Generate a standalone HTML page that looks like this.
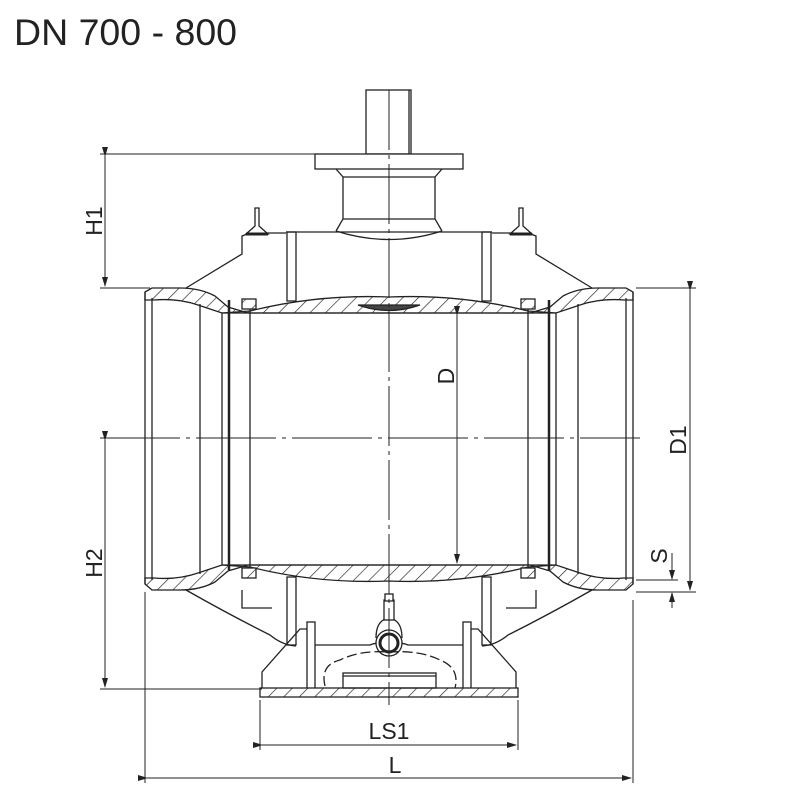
<!DOCTYPE html>
<html><head><style>body{margin:0;background:#fff}svg{display:block}</style></head><body>
<svg width="800" height="800" viewBox="0 0 800 800" xmlns="http://www.w3.org/2000/svg" font-family="Liberation Sans, sans-serif">
<defs>
<pattern id="h" width="11" height="11" patternUnits="userSpaceOnUse" patternTransform="rotate(45)">
<rect width="11" height="11" fill="#fff"/><line x1="0" y1="0" x2="0" y2="11" stroke="#222" stroke-width="1.3"/></pattern>
<marker id="a" markerWidth="10" markerHeight="8" refX="9" refY="4" orient="auto" markerUnits="userSpaceOnUse"><path d="M0,1 L10,4 L0,7 Z" fill="#222"/></marker>
</defs>
<text x="14" y="45" font-size="37.5" fill="#222">DN 700 - 800</text>
<g stroke="#222" stroke-width="1.3" fill="none">
<rect x="366" y="90" width="45" height="64" fill="#fff"/>
<line x1="409" y1="90" x2="409" y2="154"/>
<rect x="315" y="154" width="148" height="15" fill="#fff"/>
<path d="M336,169 L343,177 L343,219 L336,231 M442,169 L435,177 L435,219 L442,231 M343,177 H435 M343,219 H435 M336,231 Q389,248 442,231"/>
<path d="M186,288 L242,254 L242,236 L250,233 H286 M492,233 H528 L536,236 L536,254 L592,288"/>
<line x1="286" y1="232" x2="492" y2="232"/>
<rect x="287" y="232" width="9" height="69"/>
<rect x="482" y="232" width="9" height="69"/>
<path d="M255,208 h4 v18 l9,8 h-22 l9,-8 z" fill="#fff"/>
<line x1="246" y1="234" x2="268" y2="234" stroke-width="3"/>
<path d="M519,208 h4 v18 l9,8 h-22 l9,-8 z" fill="#fff"/>
<line x1="510" y1="234" x2="532" y2="234" stroke-width="3"/>
<path d="M145,292 L152,288 H180 Q200,288 215,296 L228,307 L248,313 H530 L550,307 L563,296 Q578,288 598,288 H626 L633,292 V300 H624 Q600,298 580,305 L556,313 L528,311 Q460,294 389,297 Q318,294 250,311 L222,313 L198,305 Q178,298 154,300 H145 Z" fill="url(#h)"/>
<path d="M358,305 H420 Q389,316 358,305 Z" fill="#444"/>
<path d="M145,584 L152,590 H180 Q200,590 215,582 L228,571 L248,565 H530 L550,571 L563,582 Q578,590 598,590 H626 L633,584 V578 H624 Q600,580 580,573 L556,565 L528,567 Q460,584 389,581 Q318,584 250,567 L222,565 L198,573 Q178,580 154,578 H145 Z" fill="url(#h)"/>
<line x1="145" y1="292" x2="145" y2="584"/><line x1="152" y1="298" x2="152" y2="580"/><line x1="200" y1="304" x2="200" y2="574"/>
<line x1="633" y1="292" x2="633" y2="584"/><line x1="626" y1="298" x2="626" y2="580"/><line x1="578" y1="304" x2="578" y2="574"/>
<line x1="222" y1="313" x2="556" y2="313"/><line x1="222" y1="565" x2="556" y2="565"/>
<line x1="222" y1="313" x2="222" y2="565"/><line x1="229" y1="300" x2="229" y2="570" stroke-width="2.5"/><line x1="250" y1="305" x2="250" y2="570"/>
<line x1="556" y1="313" x2="556" y2="565"/><line x1="549" y1="300" x2="549" y2="570" stroke-width="2.5"/><line x1="528" y1="305" x2="528" y2="570"/>
<rect x="242" y="299" width="14" height="10" fill="url(#h)"/><rect x="521" y="299" width="14" height="10" fill="url(#h)"/>
<rect x="242" y="568" width="14" height="10" fill="url(#h)"/><rect x="521" y="568" width="14" height="10" fill="url(#h)"/>
<path d="M186,590 Q230,615 270,635 Q282,645 296,646 M592,590 Q548,615 508,635 Q496,645 482,646"/>
<rect x="287" y="577" width="9" height="68"/><rect x="482" y="577" width="9" height="68"/>
<path d="M242,590 V608 H272 M536,590 V608 H506"/>
<path d="M262,688 V672 L300,629 H307 M471,629 H478 L516,672 V688"/>
<rect x="307" y="622" width="8" height="71"/><rect x="463" y="622" width="8" height="71"/>
<path d="M315,645 H370 Q382,640 389,650 Q396,640 408,645 H463"/>
<rect x="260" y="688" width="258" height="9" fill="url(#h)"/>
<rect x="343" y="673" width="93" height="15"/>
<line x1="343" y1="676" x2="436" y2="676"/>
<circle cx="389" cy="643" r="13" fill="#fff"/><circle cx="389" cy="643" r="9" stroke-width="3"/>
<path d="M376,638 Q376,620 389,618 Q402,620 402,638"/>
<rect x="384" y="600" width="10" height="20" fill="#fff"/><rect x="385" y="594" width="8" height="7" fill="#fff"/>
<path d="M325,686 Q320,665 340,660 Q360,650 389,652 Q420,650 440,660 Q460,668 455,688" stroke-dasharray="10,4"/>
</g>
<g stroke="#222" stroke-width="1" fill="none">
<line x1="389" y1="90" x2="389" y2="705" stroke-dasharray="60,5,4,5"/>
<line x1="100" y1="438" x2="640" y2="438" stroke-dasharray="80,6,4,6"/>
</g>
<g stroke="#222" stroke-width="1" fill="none">
<line x1="100" y1="154" x2="315" y2="154"/><line x1="100" y1="288" x2="150" y2="288"/>
<line x1="105" y1="156" x2="105" y2="286" marker-start="url(#a)" marker-end="url(#a)"/>
<line x1="100" y1="689" x2="262" y2="689"/>
<line x1="105" y1="440" x2="105" y2="687" marker-start="url(#a)" marker-end="url(#a)"/>
<line x1="636" y1="288" x2="696" y2="288"/><line x1="636" y1="592" x2="696" y2="592"/>
<line x1="690" y1="290" x2="690" y2="590" marker-start="url(#a)" marker-end="url(#a)"/>
<line x1="636" y1="580" x2="678" y2="580"/>
<line x1="672" y1="553" x2="672" y2="579" marker-end="url(#a)"/><line x1="672" y1="608" x2="672" y2="593" marker-end="url(#a)"/>
<line x1="457" y1="315" x2="457" y2="563" marker-start="url(#a)" marker-end="url(#a)"/>
<line x1="260" y1="700" x2="260" y2="750"/><line x1="518" y1="700" x2="518" y2="750"/>
<line x1="262" y1="745" x2="516" y2="745" marker-start="url(#a)" marker-end="url(#a)"/>
<line x1="145" y1="592" x2="145" y2="783"/><line x1="633" y1="600" x2="633" y2="783"/>
<line x1="147" y1="778" x2="631" y2="778" marker-start="url(#a)" marker-end="url(#a)"/>
</g>
<g fill="#222" font-size="23">
<text transform="translate(102,221) rotate(-90)" text-anchor="middle">H1</text>
<text transform="translate(102,563) rotate(-90)" text-anchor="middle">H2</text>
<text transform="translate(686,440) rotate(-90)" text-anchor="middle">D1</text>
<text transform="translate(454,376) rotate(-90)" text-anchor="middle">D</text>
<text transform="translate(667,556) rotate(-90)" text-anchor="middle">S</text>
<text x="389" y="739" text-anchor="middle">LS1</text>
<text x="395" y="773" text-anchor="middle">L</text>
</g>
</svg>
</body></html>
